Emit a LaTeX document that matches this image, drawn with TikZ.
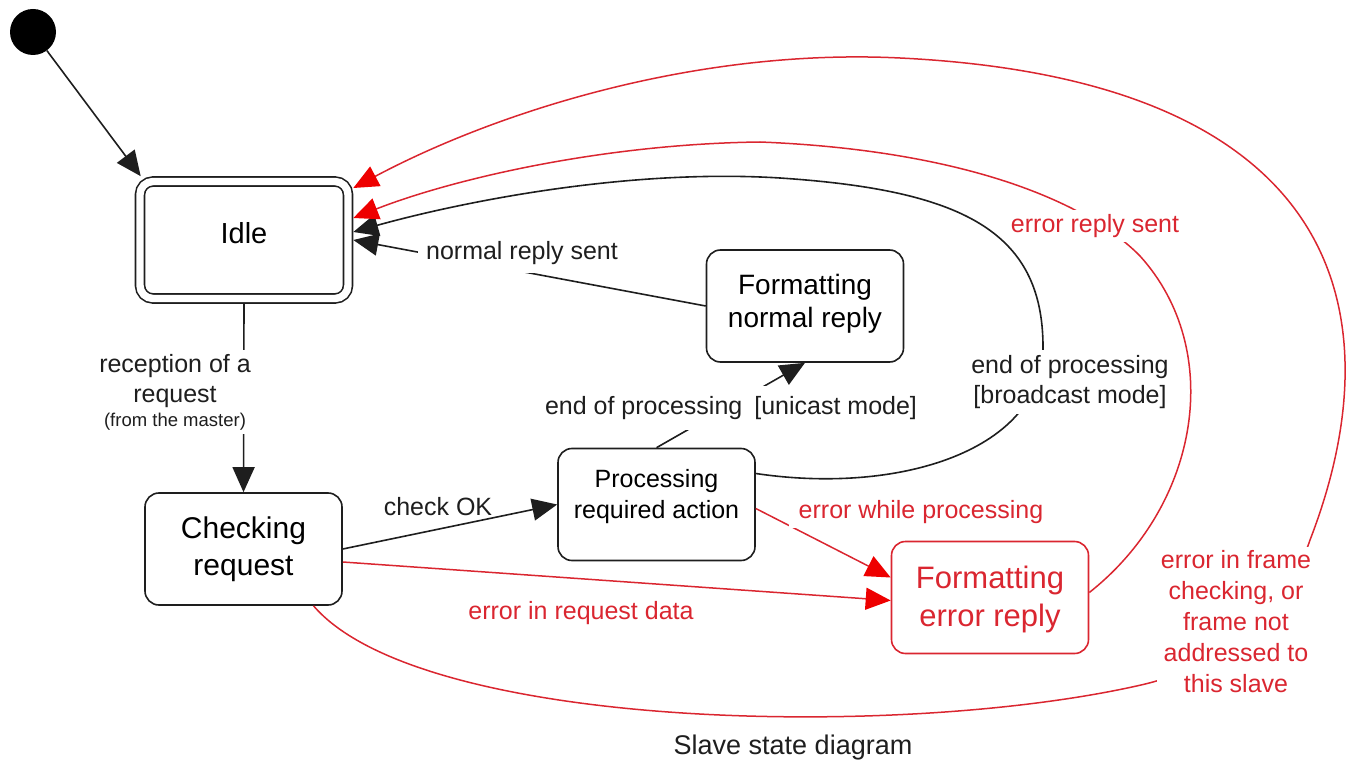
\documentclass[tikz,border=0pt]{standalone}
\usepackage{fontspec}
\setmainfont{Liberation Sans}
\usetikzlibrary{arrows.meta}
\definecolor{errred}{RGB}{218,38,48}
\definecolor{headred}{RGB}{238,0,0}
\definecolor{ink}{RGB}{30,30,30}

\begin{document}
\begin{tikzpicture}[x=1pt,y=-1pt,
  state/.style={draw=ink, line width=1.6pt, rounded corners=14pt,
    minimum width=197pt, minimum height=112pt, align=center, inner sep=0pt},
  stext/.style={align=center, inner sep=0pt},
  flow/.style={draw=ink, line width=1.6pt, -{Triangle[length=25pt,width=22pt]}},
  errflow/.style={draw=errred, line width=1.5pt, -{Triangle[length=25pt,width=22pt,color=headred]}},
  lbl/.style={font=\fontsize{25pt}{30pt}\selectfont, align=center, inner sep=4pt, text=ink},
  elbl/.style={lbl, text=errred},
  gap/.style={fill=white}
]
\useasboundingbox (0,0) rectangle (1354,767);

% states
\node[circle, fill=black, minimum size=46pt, inner sep=0pt] (init) at (33,32) {};

\node[draw=ink, line width=1.6pt, double=white, double distance=7.4pt,
      rounded corners=13pt, minimum width=208pt, minimum height=117pt,
      outer sep=5.3pt] (idle) at (244,240) {};
\node[stext, font=\fontsize{29pt}{34pt}\selectfont] at (244,233) {Idle};

\node[state] (check) at (243.5,549) {};
\node[stext, font=\fontsize{30pt}{37pt}\selectfont] at (243.5,549) {Checking\\request};

\node[state] (proc) at (656.5,504.5) {};
\node[stext, font=\fontsize{25pt}{31pt}\selectfont] at (656.5,496.5) {Processing\\required action};

\node[state] (fnorm) at (805,306) {};
\node[stext, font=\fontsize{28pt}{33pt}\selectfont] at (805,304) {Formatting\\normal reply};

\node[state, draw=errred] (ferr) at (990,597.5) {};
\node[stext, text=errred, font=\fontsize{31pt}{38pt}\selectfont] at (990,599) {Formatting\\error reply};

% normal transitions
\draw[flow] (init) -- ([xshift=6pt]idle.north west);
\draw[flow] (idle.south) -- (check.north);
\draw[flow] (check.east) -- (proc.west);
\draw[flow] (proc.north) -- (fnorm.south);
\draw[flow] (fnorm.west) -- (idle.east);
\draw[flow] ([yshift=31pt]proc.east)
  .. controls (900,495) and (1043,450) .. (1043,347)
  .. controls (1043,230) and (960,190) .. (780,178)
  .. controls (620,168) and (450,205) .. ([yshift=8pt]idle.east);

% error transitions
\draw[errflow] ([yshift=-4pt]proc.east) -- ([yshift=20pt]ferr.west);
\draw[errflow] ([yshift=-13pt]check.east) -- ([yshift=-3pt]ferr.west);
\draw[errflow] ([yshift=5pt]ferr.east)
  .. controls (1200,505) and (1225,350) .. (1140,256)
  .. controls (1085,200) and (960,150) .. (760,142)
  .. controls (600,144) and (450,180) .. ([yshift=22pt]idle.east);
\draw[errflow] ([xshift=70pt]check.south)
  .. controls (420,730) and (900,740) .. (1141,685)
  .. controls (1230,665) and (1290,600) .. (1310,540)
  .. controls (1395,320) and (1350,80) .. (900,58)
  .. controls (700,48) and (500,110) .. ([yshift=52pt]idle.east);

% transition labels
\node[lbl, gap] (lrecv) at (175,392) {reception of a\\request\\[-6pt]{\fontsize{18.5pt}{20pt}\selectfont (from the master)}};
\node[lbl] (lok) at (438,507) {check OK};
\node[lbl, gap, inner xsep=8pt, inner ysep=10pt] (luni) at (731,408) {end of processing\hspace{12pt}[unicast mode]};
\node[lbl, gap, inner sep=8pt] (lnorm) at (522,253) {normal reply sent};
\node[lbl, gap, inner sep=5pt] (lbroad) at (1070,382) {end of processing\\{[}broadcast mode{]}};
\node[elbl, gap] (lsent) at (1095,226) {error reply sent};
\node[elbl, gap, inner xsep=10pt, inner ysep=4pt] (lwhile) at (921,512) {error while processing};
\node[elbl] (ldata) at (581,613) {error in request data};
\node[elbl, gap, font=\fontsize{25pt}{31pt}\selectfont] (lframe) at (1236,622)
  {error in frame\\checking, or\\frame not\\addressed to\\this slave};

% caption
\node[lbl, font=\fontsize{27pt}{32pt}\selectfont] (caption) at (793,748) {Slave state diagram};
\end{tikzpicture}
\end{document}
